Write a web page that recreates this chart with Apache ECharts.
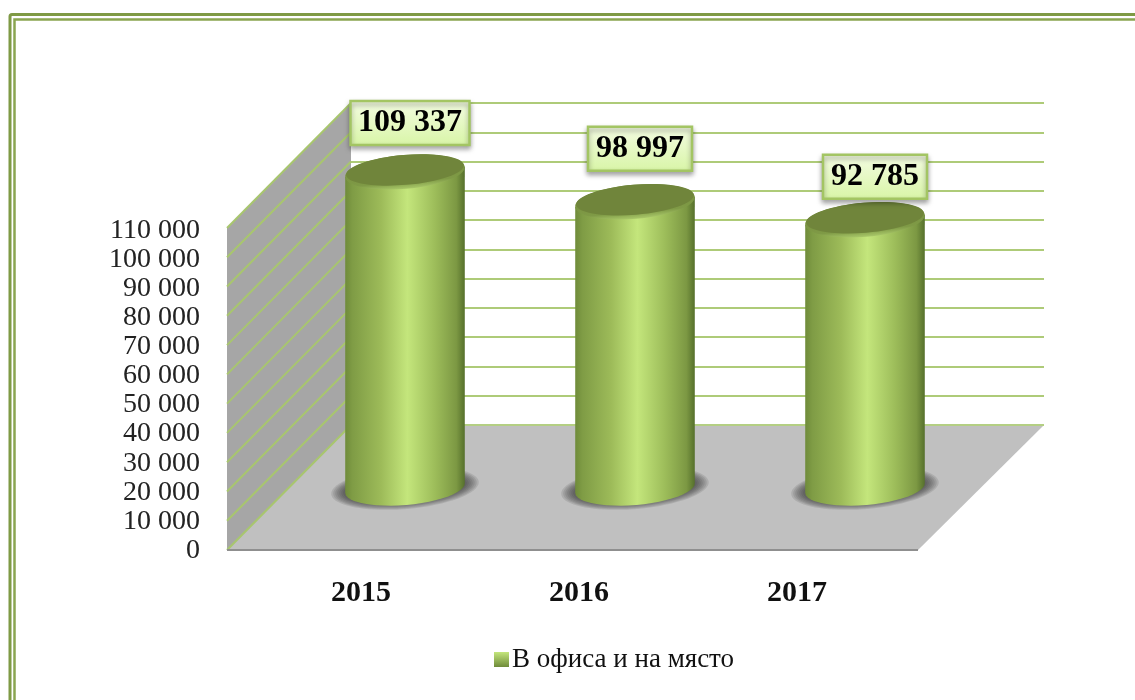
<!DOCTYPE html>
<html>
<head>
<meta charset="utf-8">
<style>
  html, body { margin: 0; padding: 0; background: #fff; overflow: hidden; }
  #chart { width: 1135px; height: 700px; }
</style>
<script src="https://cdn.jsdelivr.net/npm/echarts@6/dist/echarts.min.js"></script>
</head>
<body>
<div id="chart"></div>
<script>
  const categories = ['2015', '2016', '2017']
  const officeValues = [109337, 98997, 92785]
  const yTicks = [0, 10000, 20000, 30000, 40000, 50000, 60000, 70000, 80000, 90000, 100000, 110000]
  const seriesName = 'В офиса и на място'

  const yMax = 110000
  const serif = '"Liberation Serif", "Times New Roman", serif'
  const lineGreen = '#a8c66e'
  // depth of the fake 3D box, back wall to front edge
  const depthX = -124
  const depthY = 125
  const tilt = 0.085
  const rx = 60
  const ry = 17

  const spaced = v => String(v).replace(/\B(?=(\d{3})+$)/g, ' ')

  const hGrad = stops => ({type: 'linear', x: 0, y: 0, x2: 1, y2: 0, colorStops: stops})
  const vGrad = stops => ({type: 'linear', x: 0, y: 0, x2: 0, y2: 1, colorStops: stops})

  function ellipseAt (cx, cy, a, b, style, z2) {
    return {
      type: 'ellipse',
      shape: {cx: cx, cy: cy, rx: a, ry: b},
      originX: cx,
      originY: cy,
      rotation: tilt,
      style: style,
      z2: z2
    }
  }

  function bodyPoints (cx, topY, baseY) {
    const pts = []
    const c = Math.cos(tilt)
    const s = Math.sin(tilt)
    pts.push([cx - rx * c, topY + rx * s])
    for (let i = 0; i <= 24; i++) {
      const t = Math.PI - Math.PI * i / 24
      const u = rx * Math.cos(t)
      const v = ry * Math.sin(t)
      pts.push([cx + u * c + v * s, baseY - u * s + v * c])
    }
    pts.push([cx + rx * c, topY - rx * s])
    return pts
  }

  // soft floor shadow, stacked see-through ellipses
  function floorShadow (cx, cy) {
    const rings = []
    for (let i = 0; i < 8; i++) {
      rings.push(ellipseAt(cx, cy, 74 - i * 2, 21 - i, {fill: 'rgba(50,50,50,0.13)'}, 1))
    }
    return rings
  }

  // walls and floor, drawn from the back grid
  function renderBox (params, api) {
    const v = api.value(1)
    const p = api.coord([0, v])
    const line = (a, b, color) => ({
      type: 'line',
      shape: {x1: a[0], y1: a[1], x2: b[0], y2: b[1]},
      style: {stroke: color || lineGreen, lineWidth: 2},
      z2: 5
    })
    const children = [line(p, [p[0] + depthX, p[1] + depthY])]
    if (params.dataIndex === 0) {
      const top = api.coord([0, yMax])
      const right = api.coord([1, 0])
      children.push({
        type: 'polygon',
        shape: {points: [top, p, [p[0] + depthX, p[1] + depthY], [top[0] + depthX, top[1] + depthY]]},
        style: {fill: '#a6a6a6'},
        z2: 1
      })
      children.push({
        type: 'polygon',
        shape: {points: [p, right, [right[0] + depthX - 2, right[1] + depthY], [p[0] + depthX, p[1] + depthY]]},
        style: {fill: '#c0c0c0'},
        z2: 1
      })
      children.push(line([p[0] + depthX, p[1] + depthY], [right[0] + depthX - 2, right[1] + depthY], '#8f8f8f'))
      children.push(line(p, right, '#b4cf83'))
    }
    return {type: 'group', children: children}
  }

  // label boxes are not centred over the bars in the original
  const labelNudge = [[5, 1], [5, -3], [10, 7]]

  function renderCylinder (params, api) {
    const base = api.coord([api.value(0), 0])
    const top = api.coord([api.value(0), api.value(1)])
    const cx = base[0]
    const text = spaced(api.value(1))
    const nudge = labelNudge[params.dataIndex]
    const boxW = 14 + text.length * 15
    const boxH = 44
    const boxX = cx + nudge[0] - boxW / 2
    const boxY = top[1] - 72 + nudge[1]
    return {
      type: 'group',
      children: floorShadow(cx, base[1]).concat([
        {
          type: 'polygon',
          shape: {points: bodyPoints(cx, top[1], base[1])},
          style: {
            fill: hGrad([
              {offset: 0, color: '#6f8b3a'},
              {offset: 0.06, color: '#7f9c45'},
              {offset: 0.3, color: '#9dbb59'},
              {offset: 0.52, color: '#c4e67c'},
              {offset: 0.75, color: '#9dbd5a'},
              {offset: 0.93, color: '#7c9843'},
              {offset: 1, color: '#56702c'}
            ])
          },
          z2: 2
        },
        ellipseAt(cx, top[1], rx, ry, {
          fill: vGrad([
            {offset: 0, color: '#728a3c'},
            {offset: 0.8, color: '#7f9a46'},
            {offset: 1, color: '#a9c869'}
          ])
        }, 3),
        ellipseAt(cx, top[1] - 2, rx - 1, ry - 2, {fill: '#70853b'}, 4),
        {
          type: 'rect',
          shape: {x: boxX, y: boxY, width: boxW, height: boxH},
          style: {
            fill: vGrad([
              {offset: 0, color: '#f4fce3'},
              {offset: 1, color: '#d8f5a6'}
            ]),
            stroke: '#a3c563',
            lineWidth: 2.5,
            shadowBlur: 5,
            shadowOffsetY: 3,
            shadowColor: 'rgba(0,0,0,0.35)'
          },
          z2: 6
        },
        {
          type: 'text',
          style: {
            text: text,
            x: boxX + boxW / 2,
            y: boxY + boxH / 2,
            align: 'center',
            verticalAlign: 'middle',
            fill: '#000',
            font: 'bold 32px ' + serif
          },
          z2: 7
        }
      ])
    }
  }

  const option = {
    animation: false,
    backgroundColor: '#fff',
    graphic: [
      {type: 'rect', shape: {x: 10, y: 14.5, width: 1300, height: 900, r: 2}, style: {fill: 'none', stroke: '#7f9a45', lineWidth: 3}},
      {type: 'rect', shape: {x: 14.5, y: 19.5, width: 1300, height: 900}, style: {fill: 'none', stroke: '#8aa550', lineWidth: 2.5}}
    ],
    legend: {
      left: 489,
      top: 641,
      itemWidth: 15,
      itemHeight: 15,
      itemGap: 0,
      data: [{
        name: seriesName,
        icon: 'rect',
        itemStyle: {color: vGrad([{offset: 0, color: '#c4e67c'}, {offset: 1, color: '#6f8b3a'}])}
      }],
      textStyle: {fontFamily: serif, fontSize: 27, color: '#111', padding: [0, 0, 0, -2]}
    },
    grid: [
      // back wall
      {left: 351, top: 103, width: 693, height: 322},
      // cylinders
      {left: 290, top: 170, width: 690, height: 318},
      // front axes with the tick labels
      {left: 252, top: 230.5, width: 654, height: 320}
    ],
    xAxis: [
      {gridIndex: 0, type: 'value', min: 0, max: 1, show: false},
      {gridIndex: 1, type: 'category', data: categories, show: false},
      {
        gridIndex: 2,
        type: 'category',
        data: categories,
        axisLine: {show: false},
        axisTick: {show: false},
        axisLabel: {margin: 27.5, fontFamily: serif, fontWeight: 'bold', fontSize: 30, color: '#111'}
      }
    ],
    yAxis: [
      {
        gridIndex: 0,
        type: 'value',
        min: 0,
        max: yMax,
        interval: 10000,
        axisLine: {show: false},
        axisTick: {show: false},
        axisLabel: {show: false},
        splitLine: {lineStyle: {color: '#aecb78', width: 2}}
      },
      {gridIndex: 1, type: 'value', min: 0, max: yMax, show: false},
      {
        gridIndex: 2,
        type: 'value',
        min: 0,
        max: yMax,
        interval: 10000,
        axisLine: {show: false},
        axisTick: {show: false},
        splitLine: {show: false},
        axisLabel: {margin: 52, fontFamily: serif, fontSize: 28, color: '#222', formatter: spaced}
      }
    ],
    series: [
      {
        type: 'custom',
        silent: true,
        xAxisIndex: 0,
        yAxisIndex: 0,
        z: 1,
        renderItem: renderBox,
        data: yTicks.map(v => [0, v])
      },
      {
        name: seriesName,
        type: 'custom',
        xAxisIndex: 1,
        yAxisIndex: 1,
        z: 3,
        clip: false,
        renderItem: renderCylinder,
        encode: {x: 0, y: 1},
        data: categories.map((c, i) => [c, officeValues[i]])
      }
    ]
  }

  const chart = echarts.init(document.getElementById('chart'), null, {renderer: 'canvas'})
  chart.setOption(option)
</script>
</body>
</html>
